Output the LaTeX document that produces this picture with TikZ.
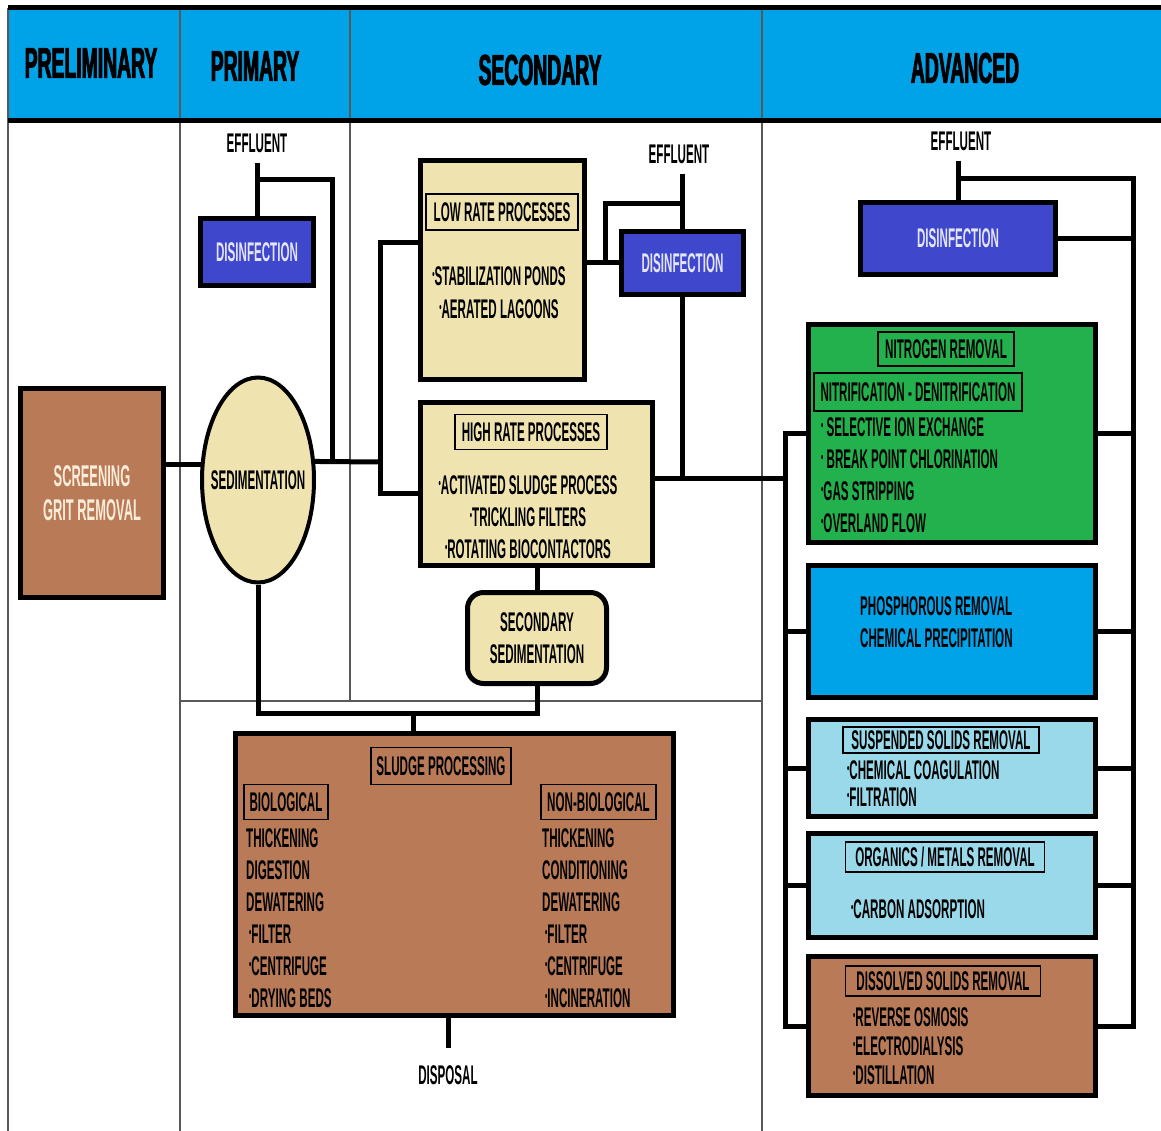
\documentclass[tikz,border=0pt]{standalone}
\usepackage{fontspec}
\setmainfont{Liberation Sans}[FakeStretch=0.43]
\newfontfamily\hdrfont{Liberation Sans}[FakeStretch=0.45, FakeBold=2]
\usepackage{xcolor}
\usepackage{tikz}
\usetikzlibrary{shapes.geometric}
\definecolor{HeadBlue}{RGB}{0,162,232}
\definecolor{DisBlue}{RGB}{63,72,204}
\definecolor{DisTxt}{RGB}{228,228,250}
\definecolor{Cream}{RGB}{239,228,176}
\definecolor{Clay}{RGB}{185,122,87}
\definecolor{ClayTxt}{RGB}{250,236,216}
\definecolor{LeafGreen}{RGB}{34,177,76}
\definecolor{SkyBlue}{RGB}{153,217,234}
\newcommand{\bul}{{\fontsize{15}{15}\selectfont\raisebox{6pt}{\textbullet}}}

\begin{document}
\begin{tikzpicture}[x=1pt, y=-1pt, font=\fontsize{27}{32}\selectfont\bfseries,
  blk/.style={draw, line width=5pt, inner sep=0pt, align=center},
  ttl/.style={draw, line width=1.3pt, inner sep=0pt},
  txt/.style={inner sep=0pt, align=left},
  hdr/.style={inner sep=0pt, font=\hdrfont\fontsize{43}{46}\selectfont\bfseries},
  wire/.style={line width=5pt},
  colline/.style={line width=1.2pt, black!65}]

  \useasboundingbox (0,0) rectangle (1161,1131);

  \fill[HeadBlue] (8,8) rectangle (1161,121);
  \draw[colline] (8,8) -- (8,1131);
  \draw[colline] (180,8) -- (180,1131);
  \draw[colline] (350,8) -- (350,701);
  \draw[colline] (762,8) -- (762,1131);
  \draw[colline] (180,701) -- (762,701);
  \draw[line width=5pt] (8,8) -- (1161,8);
  \draw[line width=5pt] (8,121) -- (1161,121);

  \node[hdr] (hpre) at (91,63)  {PRELIMINARY};
  \node[hdr] (hpri) at (255,66) {PRIMARY};
  \node[hdr] (hsec) at (540,70) {SECONDARY};
  \node[hdr] (hadv) at (965,68) {ADVANCED};

  \node[blk, fill=Clay, text=ClayTxt, minimum width=143pt, minimum height=209pt,
        font=\fontsize{30}{34}\selectfont\bfseries] (screen) at (92,493) {SCREENING\\GRIT REMOVAL};

  \node[blk, ellipse, fill=Cream, line width=4pt, minimum width=112pt, minimum height=205pt] (sed) at (258,480) {};
  \node[txt] (sedtxt) at (258,480) {SEDIMENTATION};
  \node[blk, fill=DisBlue, text=DisTxt, minimum width=113pt, minimum height=67pt] (dis1) at (257,252) {DISINFECTION};
  \node[txt] (eff1) at (257,143) {EFFLUENT};

  \node[blk, fill=Cream, minimum width=164pt, minimum height=219pt] (low) at (502.5,270) {};
  \node[ttl, minimum width=152pt, minimum height=36pt] (lowt) at (502,212) {LOW RATE PROCESSES};
  \node[txt, align=center, font=\fontsize{27}{33}\selectfont\bfseries] (lowi) at (499,292.5) {\bul STABILIZATION PONDS\\\bul AERATED LAGOONS};

  \node[blk, fill=Cream, minimum width=232pt, minimum height=163pt] (high) at (536.5,484) {};
  \node[ttl, minimum width=152pt, minimum height=35pt] (hight) at (531,432) {HIGH RATE PROCESSES};
  \node[txt, align=center] (highi) at (528,517) {\bul ACTIVATED SLUDGE PROCESS\\\bul TRICKLING FILTERS\\\bul ROTATING BIOCONTACTORS};

  \node[blk, fill=Cream, rounded corners=16pt, minimum width=139pt, minimum height=91pt] (sec2) at (537,638) {SECONDARY\\SEDIMENTATION};
  \node[blk, fill=DisBlue, text=DisTxt, minimum width=122pt, minimum height=63pt] (dis2) at (682.5,263) {DISINFECTION};
  \node[txt] (eff2) at (679,154) {EFFLUENT};

  \node[blk, fill=Clay, minimum width=438pt, minimum height=282pt] (sludge) at (454.5,874.5) {};
  \node[ttl, minimum width=140pt, minimum height=37pt] (sludt) at (441,766) {SLUDGE PROCESSING};
  \node[ttl, minimum width=84pt, minimum height=35pt] (biot) at (286,802) {BIOLOGICAL};
  \node[ttl, minimum width=115pt, minimum height=35pt] (nbiot) at (598.5,802) {NON-BIOLOGICAL};
  \node[txt, anchor=west] (bioi) at (246,918.5) {THICKENING\\DIGESTION\\DEWATERING\\
    \hspace{3pt}\bul FILTER\\\hspace{3pt}\bul CENTRIFUGE\\\hspace{3pt}\bul DRYING BEDS};
  \node[txt, anchor=west] (nbioi) at (542,918.5) {THICKENING\\CONDITIONING\\DEWATERING\\
    \hspace{3pt}\bul FILTER\\\hspace{3pt}\bul CENTRIFUGE\\\hspace{3pt}\bul INCINERATION};
  \node[txt] (disp) at (448,1075) {DISPOSAL};

  \node[blk, fill=DisBlue, text=DisTxt, minimum width=195pt, minimum height=72pt] (dis3) at (958,238.5) {DISINFECTION};
  \node[txt] (eff3) at (961,141) {EFFLUENT};

  \node[blk, fill=LeafGreen, minimum width=287pt, minimum height=218pt] (nitro) at (952,433.5) {};
  \node[ttl, minimum width=136pt, minimum height=34pt] (nitt) at (946,349) {NITROGEN REMOVAL};
  \node[ttl, minimum width=208pt, minimum height=38pt] (nitt2) at (918,392) {NITRIFICATION - DENITRIFICATION};
  \node[txt, anchor=west] (niti) at (821,475) {\bul\ SELECTIVE ION EXCHANGE\\\bul\ BREAK POINT CHLORINATION\\\bul GAS STRIPPING\\\bul OVERLAND FLOW};

  \node[blk, fill=HeadBlue, minimum width=287pt, minimum height=132pt] (phos) at (952,631.5) {};
  \node[txt, anchor=west] (phosi) at (860,622) {PHOSPHOROUS REMOVAL\\CHEMICAL PRECIPITATION};

  \node[blk, fill=SkyBlue, minimum width=287pt, minimum height=97pt] (ss) at (952,768) {};
  \node[ttl, minimum width=196pt, minimum height=26pt] (sst) at (941,740) {SUSPENDED SOLIDS REMOVAL};
  \node[txt, anchor=west, font=\fontsize{27}{27}\selectfont\bfseries] (ssi) at (847,783.5) {\bul CHEMICAL COAGULATION\\\bul FILTRATION};

  \node[blk, fill=SkyBlue, minimum width=287pt, minimum height=104pt] (org) at (952,885.5) {};
  \node[ttl, minimum width=199pt, minimum height=30pt] (orgt) at (945,857) {ORGANICS / METALS REMOVAL};
  \node[txt, anchor=west] (orgi) at (851,909) {\bul CARBON ADSORPTION};

  \node[blk, fill=Clay, minimum width=287pt, minimum height=139pt] (diss) at (952,1026) {};
  \node[ttl, minimum width=195pt, minimum height=30pt] (disst) at (943,981) {DISSOLVED SOLIDS REMOVAL};
  \node[txt, anchor=west, font=\fontsize{27}{29}\selectfont\bfseries] (dissi) at (853,1046) {\bul REVERSE OSMOSIS\\\bul ELECTRODIALYSIS\\\bul DISTILLATION};

  \coordinate (pj)  at (332,180);
  \coordinate (sj)  at (380,462);
  \coordinate (sj2) at (605,204);
  \coordinate (aj)  at (785,478);
  \coordinate (sl)  at (413,713);
  \coordinate (rj)  at (1133,179);

  \draw[wire, shorten <=10pt] (eff1.south -| dis1.north) -- (dis1.north);
  \draw[wire] (dis1.north |- pj) -- (pj) -- (pj |- sed.18);
  \draw[wire] (screen.east |- sed.165) -- (sed.165);
  \draw[wire] (sed.18) -- (sj);
  \draw[wire] ([yshift=27pt]low.west) -| (sj) |- ([yshift=-9pt]high.west);

  \draw[wire, shorten <=10pt] (eff2.south -| dis2.north) -- (dis2.north);
  \draw[wire] (low.east |- dis2.west) -- (dis2.west);
  \draw[wire] (sj2 |- dis2.west) -- (sj2) -- (sj2 -| dis2.north);
  \draw[wire] (dis2.south) -- (dis2.south |- aj);
  \draw[wire] (high.east |- aj) -- (aj);
  \draw[wire] (high.south -| sec2.north) -- (sec2.north);
  \draw[wire] (sed.south) |- (sl -| sec2.south) -- (sec2.south);
  \draw[wire] (sl) -- (sl |- sludge.north);
  \draw[wire, shorten >=17pt] (sludge.south -| disp.north) -- (disp.north);

  \draw[wire, shorten <=10pt] (eff3.south -| dis3.north) -- (dis3.north);
  \draw[wire] (dis3.north |- rj) -- (rj) |- (diss.east);
  \draw[wire] (dis3.east) -- (dis3.east -| rj);
  \draw[wire] (nitro.east) -- (nitro.east -| rj);
  \draw[wire] (phos.east) -- (phos.east -| rj);
  \draw[wire] (ss.east) -- (ss.east -| rj);
  \draw[wire] (org.east) -- (org.east -| rj);
  \draw[wire] (nitro.west) -| (diss.west -| aj) -- (diss.west);
  \draw[wire] (phos.west -| aj) -- (phos.west);
  \draw[wire] (ss.west -| aj) -- (ss.west);
  \draw[wire] (org.west -| aj) -- (org.west);
\end{tikzpicture}
\end{document}
